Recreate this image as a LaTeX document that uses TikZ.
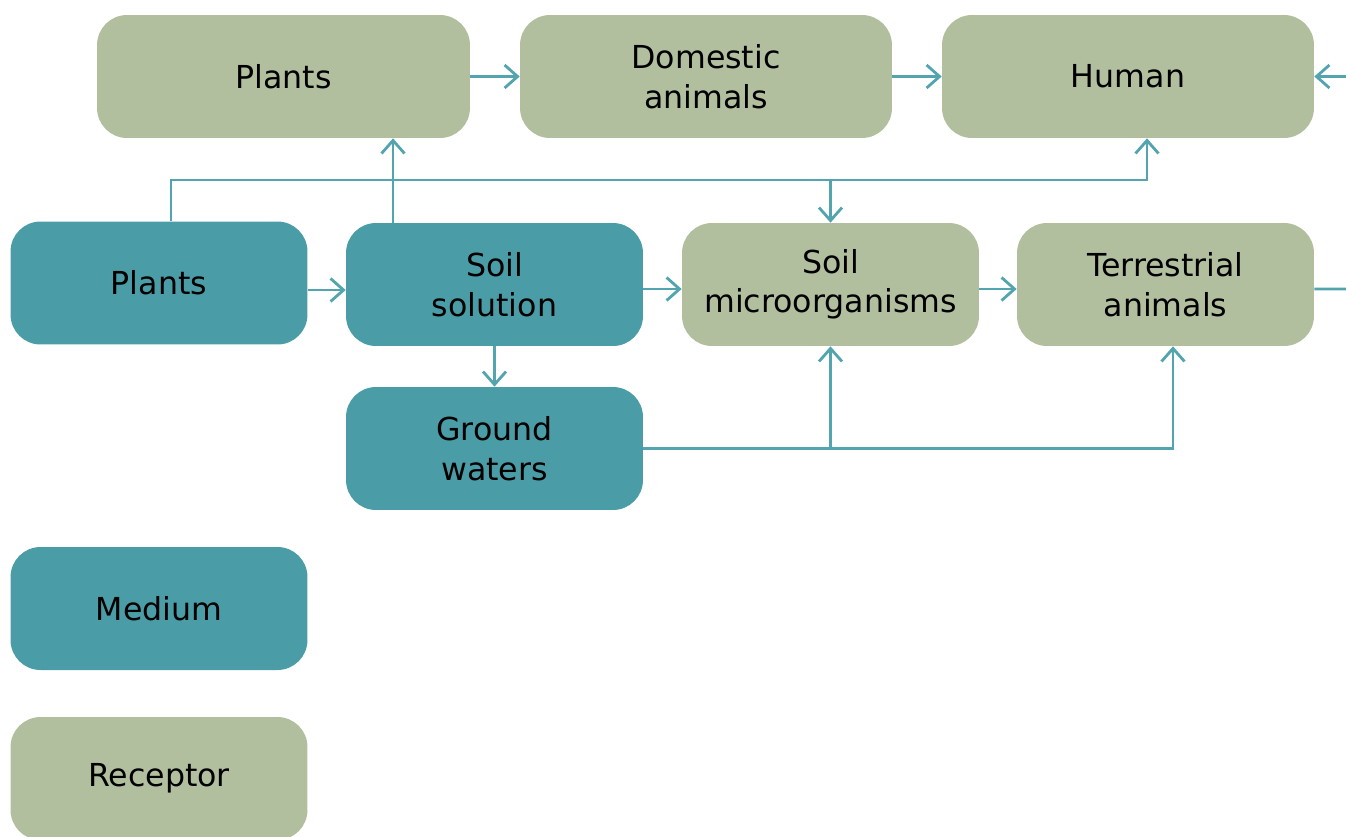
\documentclass[tikz,border=0pt]{standalone}
\usepackage{fontspec}
\setmainfont{DejaVu Sans}
\usetikzlibrary{arrows.meta}

\definecolor{mediumcol}{HTML}{4A9CA6}
\definecolor{receptorcol}{HTML}{B2BF9F}
\definecolor{linkcol}{HTML}{52A4AE}

\tikzset{
  flow/.style={draw=linkcol, line width=1.6pt, -{Straight Barb[length=2.6mm,width=4.6mm]}},
  flowline/.style={draw=linkcol, line width=1.6pt}
}

\begin{document}
\begin{tikzpicture}[x=0.02cm,y=-0.02cm]
      \useasboundingbox (0,0) rectangle (1346,836);

      \begin{scope}[every node/.style={rounded corners=0.6cm, minimum width=5.94cm,
          minimum height=2.46cm, inner sep=0pt, align=center, text=black,
          font=\fontsize{18}{22.5}\selectfont}]
        \node[fill=receptorcol, minimum width=7.46cm] (plants)   at (283.5,76.5) {Plants};
        \node[fill=receptorcol, minimum width=7.44cm] (domestic) at (706,76.5)   {Domestic\\animals};
        \node[fill=receptorcol, minimum width=7.44cm] (human)    at (1128,76.5)  {Human};
        \node[fill=mediumcol] (source)      at (159,283)     {Plants};
        \node[fill=mediumcol] (solution)    at (494.5,284.5) {Soil\\solution};
        \node[fill=receptorcol] (micro)     at (830.5,284.5) {Soil\\microorganisms};
        \node[fill=receptorcol] (terrestrial) at (1165.5,284.5) {Terrestrial\\animals};
        \node[fill=mediumcol] (ground)      at (494.5,448.5) {Ground\\waters};
        \node[fill=mediumcol] (medium)      at (159,608.5)   {Medium};
        \node[fill=receptorcol] (receptor)  at (159,778.5)   {Receptor};
      \end{scope}

      \coordinate (j1) at (0,180);
      \coordinate (e1) at (1346,76.5);
      \coordinate (e2) at (1346,289);

      \path[flow] (plants) -- (domestic);
      \path[flow] (domestic) -- (human);
      \path[flow] (e1) -- (human);
      \path[flowline] ([yshift=-0.09cm]terrestrial.east) -- (e2);

      \path[flow] ([yshift=-0.14cm]source.east) -- ([yshift=-0.14cm]source.east -| solution.west);
      \path[flow] ([yshift=-0.09cm]solution.east) -- ([yshift=-0.09cm]micro.west);
      \path[flow] ([yshift=-0.09cm]micro.east) -- ([yshift=-0.09cm]terrestrial.west);

      \path[flow] ([xshift=-2.03cm]solution.north) -- ([xshift=-2.03cm]solution.north |- plants.south);
      \path[flow] ([xshift=0.24cm]source.north) |- ([xshift=0.38cm]human.south |- j1)
        -- ([xshift=0.38cm]human.south);
      \path[flow] (j1 -| micro.north) -- (micro.north);

      \path[flow] (solution) -- (ground);
      \path[flow] (ground.east) -| ([xshift=0.15cm]terrestrial.south);
      \path[flow] (ground.east -| micro.south) -- (micro.south);

    \end{tikzpicture}
\end{document}
